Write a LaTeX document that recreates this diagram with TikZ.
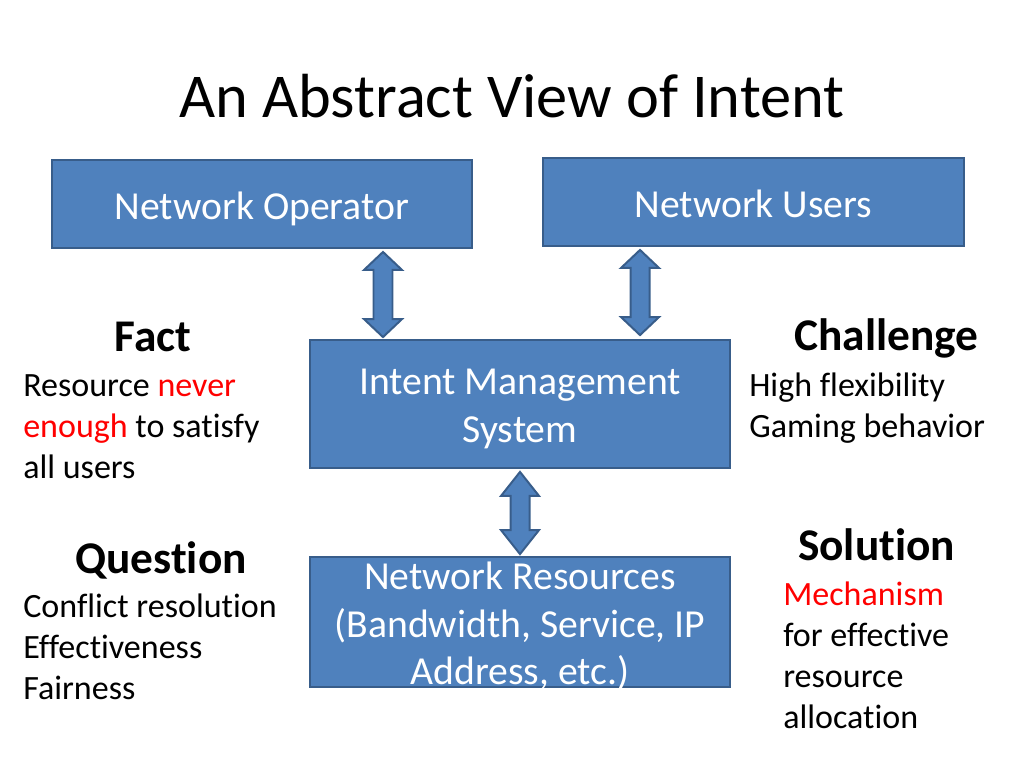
\documentclass[tikz,border=0pt]{standalone}
\usepackage{fontspec}
\setmainfont[Ligatures=NoCommon]{Carlito}
\usetikzlibrary{calc}
\definecolor{boxblue}{HTML}{4F81BD}
\definecolor{boxedge}{HTML}{385D8A}
\definecolor{hotred}{HTML}{FF0000}
\tikzset{
  boxtext/.style={text=white,align=center,inner sep=0pt,font=\fontsize{28}{33.7}\selectfont},
  box/.style={draw=boxedge,line width=1.4pt,fill=boxblue,minimum width=10.42cm,minimum height=2.18cm},
  blockarrow/.style={draw=boxedge,line width=1.4pt,fill=boxblue,line join=miter},
  head/.style={anchor=base,font=\fontsize{32}{38}\selectfont\bfseries},
  body/.style={anchor=base west,align=left,inner sep=0pt,font=\fontsize{24}{28.8}\selectfont},
}
% fat two-headed arrow from #1 (top tip) to #2 (bottom tip), head length #3
\newcommand{\dblarrow}[3]{%
  \draw[blockarrow] (#1) -- ++(19,#3) -- ++(-9.5,0) -- ($(#2)+(9.5,-#3)$) -- ++(9.5,0)
    -- (#2) -- ++(-19,-#3) -- ++(9.5,0) -- ($(#1)+(-9.5,#3)$) -- ++(-9.5,0) -- cycle;}
\begin{document}
\begin{tikzpicture}[x=0.0248cm,y=-0.0248cm]
\useasboundingbox (0,0) rectangle (1024,768);
\node[anchor=base,font=\fontsize{44}{53}\selectfont] (title) at (512,118) {An Abstract View of Intent};
% blue boxes
\node[box] (op) at (262,204) {};
\node[box] (users) at (753.5,202) {};
\node[box,minimum height=3.17cm] (ims) at (520,404) {};
\node[box,minimum height=3.22cm] (res) at (520,622) {};
\node[boxtext] (optxt) at ($(op)+(0,5)$) {Network Operator};
\node[boxtext] (userstxt) at ($(users)+(0,2)$) {Network Users};
\node[boxtext] (imstxt) at ($(ims)+(0,5)$) {Intent Management\\System};
\node[boxtext] (restxt) at ($(res)+(0,4)$) {Network Resources\\(Bandwidth, Service, IP\\Address, etc.)};
% double arrows
\coordinate (a1t) at ($(op.south)+(121,3)$);
\coordinate (a1b) at ($(ims.north)+(-137,-2)$);
\coordinate (a2t) at ($(users.south)+(-113.5,3)$);
\coordinate (a2b) at ($(ims.north)+(120,-4)$);
\coordinate (a3t) at ($(ims.south)+(0,3)$);
\coordinate (a3b) at ($(res.north)+(0,-2)$);
\dblarrow{a1t}{a1b}{18}
\dblarrow{a2t}{a2b}{18}
\dblarrow{a3t}{a3b}{24}
% side notes
\node[head] (fact) at (153,351) {Fact};
\node[body] (facttxt) at (23,478) {Resource \textcolor{hotred}{never}\\\textcolor{hotred}{enough} to satisfy\\all users};
\node[head] (chal) at (886.5,350) {Challenge};
\node[body] (chaltxt) at (749,437) {High flexibility\\Gaming behavior};
\node[head] (quest) at (161,573) {Question};
\node[body] (questtxt) at (23,699) {Conflict resolution\\Effectiveness\\Fairness};
\node[head] (sol) at (876.5,560) {Solution};
\node[body] (soltxt) at (783,728) {\textcolor{hotred}{Mechanism}\\for effective\\resource\\allocation};
\end{tikzpicture}
\end{document}
